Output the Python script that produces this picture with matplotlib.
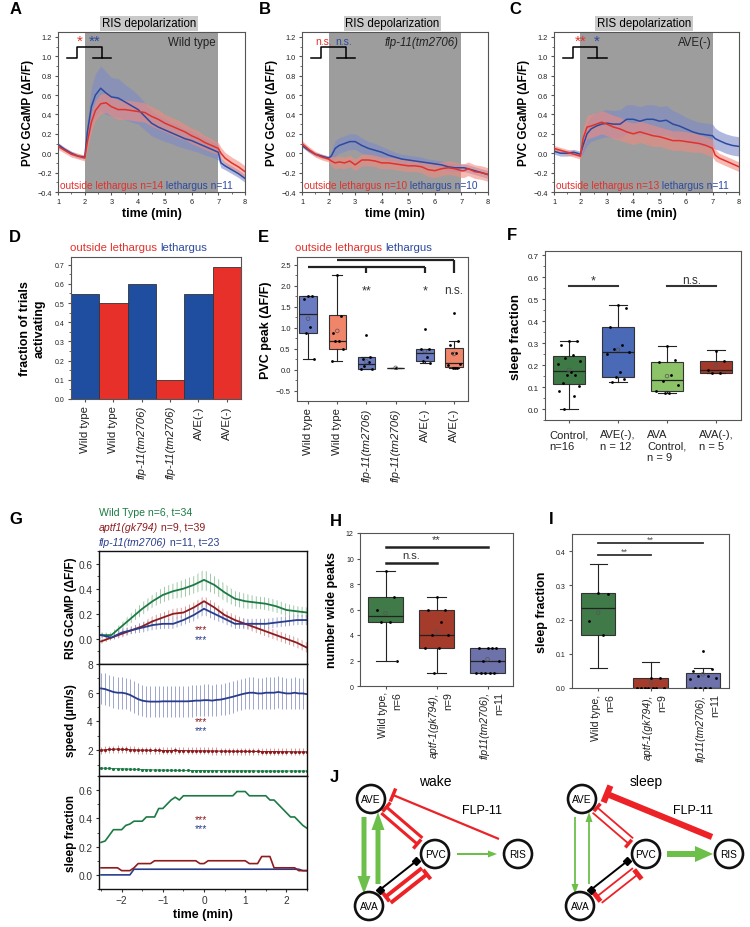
"""Multi-panel figure: PVC / RIS imaging, sleep fractions and circuit sketch."""
import numpy as np
import matplotlib
matplotlib.use("Agg")
import matplotlib.pyplot as plt
from matplotlib.patches import Circle, FancyArrow
from matplotlib.ticker import MultipleLocator
from matplotlib.transforms import blended_transform_factory as blend

# ---------------- A-C: PVC GCaMP (dF/F), mean and error ----------------
t_ac = [1.0, 1.25, 1.5, 1.75, 2.0, 2.1, 2.25, 2.4, 2.6, 2.8, 3.0, 3.25, 3.5, 3.75, 4.0, 4.25,
        4.5, 4.75, 5.0, 5.25, 5.5, 5.75, 6.0, 6.25, 6.5, 6.75, 7.0, 7.1, 7.25, 7.5, 7.75, 8.0]
wt_out = [0.07, 0.03, -0.01, -0.03, -0.05, 0.12, 0.32, 0.44, 0.51, 0.52, 0.48, 0.45, 0.45, 0.44, 0.43, 0.42,
          0.38, 0.35, 0.31, 0.28, 0.25, 0.22, 0.18, 0.15, 0.11, 0.08, 0.05, 0.00, -0.05, -0.10, -0.14, -0.19]
wt_out_err = [0.03, 0.03, 0.03, 0.03, 0.03, 0.08, 0.10, 0.10, 0.10, 0.10, 0.10, 0.10, 0.10, 0.10, 0.10, 0.10,
              0.10, 0.10, 0.09, 0.09, 0.09, 0.08, 0.08, 0.08, 0.07, 0.07, 0.06, 0.06, 0.06, 0.06, 0.06, 0.06]
wt_leth = [0.09, 0.04, 0.00, -0.03, -0.04, 0.22, 0.48, 0.60, 0.67, 0.62, 0.58, 0.57, 0.53, 0.49, 0.45, 0.38,
           0.31, 0.27, 0.24, 0.21, 0.18, 0.15, 0.13, 0.10, 0.07, 0.04, 0.01, -0.10, -0.13, -0.17, -0.21, -0.26]
wt_leth_err = [0.02, 0.02, 0.02, 0.02, 0.02, 0.10, 0.20, 0.22, 0.23, 0.22, 0.20, 0.20, 0.18, 0.17, 0.15, 0.14,
               0.13, 0.12, 0.12, 0.11, 0.11, 0.10, 0.10, 0.09, 0.09, 0.08, 0.08, 0.05, 0.04, 0.04, 0.04, 0.04]
flp_out = [0.10, 0.04, -0.01, -0.04, -0.06, -0.08, -0.10, -0.09, -0.10, -0.08, -0.12, -0.07, -0.07, -0.08, -0.10, -0.10,
           -0.11, -0.12, -0.13, -0.13, -0.14, -0.17, -0.18, -0.16, -0.15, -0.16, -0.18, -0.18, -0.16, -0.19, -0.20, -0.22]
flp_out_err = [0.03, 0.03, 0.03, 0.03, 0.03, 0.05, 0.06, 0.06, 0.06, 0.06, 0.06, 0.06, 0.06, 0.06, 0.06, 0.06,
               0.06, 0.06, 0.06, 0.06, 0.06, 0.07, 0.07, 0.07, 0.07, 0.07, 0.07, 0.07, 0.07, 0.07, 0.07, 0.07]
flp_leth = [0.08, 0.03, -0.01, -0.03, -0.05, -0.03, 0.05, 0.08, 0.10, 0.12, 0.12, 0.08, 0.05, 0.03, 0.01, -0.02,
            -0.04, -0.06, -0.07, -0.08, -0.09, -0.10, -0.11, -0.12, -0.14, -0.15, -0.15, -0.15, -0.16, -0.18, -0.20, -0.22]
flp_leth_err = [0.02, 0.02, 0.02, 0.02, 0.02, 0.05, 0.08, 0.08, 0.08, 0.08, 0.08, 0.08, 0.07, 0.07, 0.06, 0.06,
                0.05, 0.05, 0.05, 0.05, 0.05, 0.04, 0.04, 0.04, 0.04, 0.04, 0.04, 0.04, 0.04, 0.04, 0.04, 0.04]
ave_out = [0.05, 0.03, 0.01, -0.01, -0.03, 0.15, 0.27, 0.28, 0.30, 0.32, 0.30, 0.27, 0.25, 0.22, 0.20, 0.22,
           0.20, 0.18, 0.17, 0.15, 0.13, 0.13, 0.12, 0.11, 0.10, 0.08, 0.05, -0.02, -0.05, -0.08, -0.11, -0.14]
ave_out_err = [0.03, 0.03, 0.03, 0.03, 0.03, 0.10, 0.12, 0.12, 0.12, 0.12, 0.12, 0.12, 0.12, 0.11, 0.11, 0.11,
               0.11, 0.11, 0.10, 0.10, 0.10, 0.10, 0.10, 0.10, 0.09, 0.09, 0.09, 0.06, 0.05, 0.05, 0.05, 0.05]
ave_leth = [0.02, 0.00, 0.00, 0.01, -0.01, 0.08, 0.20, 0.25, 0.28, 0.30, 0.31, 0.30, 0.30, 0.35, 0.35, 0.33,
            0.35, 0.35, 0.33, 0.34, 0.30, 0.28, 0.25, 0.22, 0.20, 0.19, 0.18, 0.15, 0.13, 0.10, 0.08, 0.07]
ave_leth_err = [0.03, 0.03, 0.03, 0.03, 0.03, 0.08, 0.12, 0.13, 0.14, 0.14, 0.14, 0.14, 0.15, 0.15, 0.15, 0.15,
                0.15, 0.15, 0.15, 0.15, 0.14, 0.13, 0.12, 0.12, 0.12, 0.12, 0.12, 0.11, 0.10, 0.10, 0.10, 0.10]

# ---------------- D: fraction of trials activating ----------------
geno_labels = ['Wild type', 'Wild type', 'flp-11(tm2706)', 'flp-11(tm2706)', 'AVE(-)', 'AVE(-)']
geno_state = ['lethargus', 'outside', 'lethargus', 'outside', 'lethargus', 'outside']
frac_active = [0.545, 0.50, 0.60, 0.10, 0.545, 0.69]

# ---------------- E: PVC peak (dF/F) ----------------
peak_med = [1.34, 0.70, 0.15, 0.05, 0.40, 0.16]
peak_q1 = [0.87, 0.50, 0.02, 0.05, 0.22, 0.06]
peak_q3 = [1.77, 1.30, 0.30, 0.05, 0.50, 0.52]
peak_lo = [0.25, 0.21, 0.02, 0.05, 0.16, 0.04]
peak_hi = [1.77, 2.25, 0.30, 0.05, 0.50, 0.70]
peak_mean = [1.22, 0.93, 0.20, 0.05, 0.45, 0.38]
peak_pts = [[1.77, 1.77, 1.68, 1.02, 0.88, 0.25],
            [2.25, 1.28, 0.88, 0.68, 0.68, 0.50, 0.21],
            [0.84, 0.30, 0.25, 0.20, 0.10, 0.02, 0.02],
            [0.05],
            [0.97, 0.50, 0.50, 0.30, 0.22, 0.16],
            [1.35, 0.70, 0.60, 0.40, 0.40, 0.15, 0.12, 0.05, 0.05, 0.04]]

# ---------------- F: sleep fraction (AVE / AVA ablation) ----------------
abl_labels = ['Control,\nn=16', 'AVE(-),\nn = 12', 'AVA\nControl,\nn = 9', 'AVA(-),\nn = 5']
abl_med = [0.172, 0.262, 0.130, 0.180]
abl_q1 = [0.115, 0.148, 0.080, 0.165]
abl_q3 = [0.240, 0.375, 0.213, 0.217]
abl_lo = [0.000, 0.125, 0.073, 0.163]
abl_hi = [0.312, 0.473, 0.288, 0.267]
abl_mean = [0.178, 0.270, 0.150, 0.200]
abl_pts = [[0.31, 0.31, 0.29, 0.245, 0.232, 0.218, 0.205, 0.17, 0.155, 0.155, 0.12, 0.105, 0.08, 0.06, 0.0],
           [0.473, 0.46, 0.375, 0.29, 0.275, 0.26, 0.25, 0.17, 0.145, 0.135, 0.125],
           [0.288, 0.225, 0.213, 0.157, 0.128, 0.108, 0.08, 0.075, 0.073],
           [0.265, 0.217, 0.18, 0.163, 0.165]]

# ---------------- G: RIS GCaMP, speed, sleep fraction around peak ----------------
g_t = [-2.5, -2.25, -2.0, -1.75, -1.5, -1.25, -1.0, -0.75, -0.5, -0.25, 0.0,
       0.25, 0.5, 0.75, 1.0, 1.25, 1.5, 1.75, 2.0, 2.25, 2.5]
gc_wt = [0.03, 0.03, 0.10, 0.17, 0.24, 0.30, 0.35, 0.38, 0.40, 0.43, 0.47,
         0.43, 0.37, 0.32, 0.30, 0.29, 0.28, 0.26, 0.23, 0.22, 0.21]
gc_wt_err = [0.02, 0.02, 0.03, 0.04, 0.05, 0.05, 0.06, 0.06, 0.07, 0.07, 0.08,
             0.07, 0.07, 0.06, 0.06, 0.05, 0.05, 0.05, 0.05, 0.04, 0.04]
gc_aptf = [-0.02, 0.01, 0.04, 0.07, 0.10, 0.14, 0.17, 0.20, 0.21, 0.25, 0.30,
           0.25, 0.19, 0.15, 0.12, 0.09, 0.06, 0.03, 0.00, -0.03, -0.07]
gc_aptf_err = [0.02, 0.02, 0.03, 0.03, 0.03, 0.04, 0.04, 0.04, 0.04, 0.04, 0.04,
               0.04, 0.04, 0.04, 0.04, 0.04, 0.04, 0.04, 0.04, 0.04, 0.04]
gc_flp = [0.03, 0.01, 0.05, 0.07, 0.09, 0.11, 0.12, 0.12, 0.15, 0.19, 0.24,
          0.20, 0.16, 0.12, 0.12, 0.12, 0.12, 0.13, 0.14, 0.15, 0.15]
gc_flp_err = [0.02, 0.02, 0.03, 0.03, 0.04, 0.04, 0.04, 0.04, 0.04, 0.05, 0.05,
              0.05, 0.04, 0.04, 0.04, 0.04, 0.04, 0.04, 0.04, 0.04, 0.04]

g_tf = [-2.5, -2.4, -2.3, -2.2, -2.1, -2.0, -1.9, -1.8, -1.7, -1.6,
        -1.5, -1.4, -1.3, -1.2, -1.1, -1.0, -0.9, -0.8, -0.7, -0.6,
        -0.5, -0.4, -0.3, -0.2, -0.1, 0.0, 0.1, 0.2, 0.3, 0.4,
        0.5, 0.6, 0.7, 0.8, 0.9, 1.0, 1.1, 1.2, 1.3, 1.4,
        1.5, 1.6, 1.7, 1.8, 1.9, 2.0, 2.1, 2.2, 2.3, 2.4, 2.5]
spd_flp = [6.30, 6.25, 6.15, 6.05, 6.00, 6.00, 5.95, 5.85, 5.70, 5.55,
           5.45, 5.40, 5.38, 5.38, 5.38, 5.40, 5.40, 5.40, 5.40, 5.40,
           5.40, 5.40, 5.42, 5.45, 5.45, 5.48, 5.48, 5.45, 5.50, 5.52,
           5.58, 5.65, 5.72, 5.80, 5.88, 5.95, 6.00, 6.00, 5.95, 5.95,
           6.00, 6.00, 6.00, 6.05, 6.00, 5.95, 5.95, 6.00, 5.95, 5.95, 5.90]
spd_flp_err = 1.1
spd_aptf = [2.00, 2.02, 2.05, 2.05, 2.08, 2.05, 2.05, 2.03, 2.02, 2.00,
            2.00, 2.00, 1.98, 1.98, 1.98, 1.97, 1.97, 1.97, 1.98, 1.97,
            1.97, 1.96, 1.96, 1.95, 1.95, 1.95, 1.95, 1.94, 1.94, 1.93,
            1.93, 1.93, 1.92, 1.92, 1.92, 1.92, 1.91, 1.91, 1.91, 1.90,
            1.90, 1.90, 1.90, 1.90, 1.89, 1.89, 1.89, 1.88, 1.88, 1.88, 1.88]
spd_aptf_err = 0.25
spd_wt = [0.75, 0.74, 0.73, 0.72, 0.71, 0.70, 0.69, 0.68, 0.67, 0.66,
          0.65, 0.64, 0.63, 0.62, 0.62, 0.61, 0.61, 0.60, 0.60, 0.59,
          0.59, 0.59, 0.58, 0.58, 0.58, 0.58, 0.57, 0.57, 0.57, 0.57,
          0.57, 0.56, 0.56, 0.56, 0.56, 0.56, 0.56, 0.56, 0.55, 0.55,
          0.55, 0.55, 0.55, 0.55, 0.55, 0.55, 0.55, 0.55, 0.55, 0.55, 0.55]
spd_wt_err = 0.05
sl_wt = [0.23, 0.24, 0.28, 0.32, 0.32, 0.32, 0.35, 0.36, 0.38, 0.38,
         0.38, 0.41, 0.41, 0.41, 0.47, 0.47, 0.50, 0.53, 0.55, 0.53,
         0.56, 0.56, 0.56, 0.56, 0.56, 0.56, 0.56, 0.56, 0.56, 0.56,
         0.56, 0.56, 0.56, 0.59, 0.59, 0.59, 0.56, 0.56, 0.56, 0.56,
         0.56, 0.53, 0.53, 0.50, 0.47, 0.44, 0.41, 0.41, 0.38, 0.35, 0.33]
sl_aptf = [0.05, 0.05, 0.05, 0.05, 0.05, 0.03, 0.03, 0.03, 0.05, 0.08,
           0.08, 0.08, 0.08, 0.10, 0.10, 0.10, 0.10, 0.10, 0.10, 0.10,
           0.10, 0.10, 0.10, 0.10, 0.08, 0.08, 0.10, 0.10, 0.10, 0.10,
           0.10, 0.10, 0.10, 0.10, 0.10, 0.10, 0.08, 0.08, 0.08, 0.13,
           0.13, 0.13, 0.05, 0.05, 0.05, 0.05, 0.05, 0.05, 0.03, 0.03, 0.03]
sl_flp = [0.0, 0.0, 0.0, 0.0, 0.0, 0.0, 0.0, 0.0, 0.04, 0.04,
          0.04, 0.04, 0.04, 0.04, 0.04, 0.04, 0.04, 0.04, 0.04, 0.04,
          0.04, 0.04, 0.04, 0.04, 0.04, 0.04, 0.04, 0.04, 0.04, 0.04,
          0.04, 0.04, 0.04, 0.04, 0.04, 0.04, 0.04, 0.04, 0.04, 0.04,
          0.04, 0.04, 0.04, 0.04, 0.04, 0.04, 0.04, 0.04, 0.04, 0.03, 0.03]

# ---------------- H: number of wide peaks ----------------
mut_lines = ['Wild type,', 'aptf-1(gk794),', 'flp11(tm2706),']
mut_n = ['n=6', 'n=9', 'n=11']
wp_med = [5.5, 4.0, 2.0]
wp_q1 = [5.0, 3.0, 1.0]
wp_q3 = [7.0, 6.0, 3.0]
wp_lo = [2.0, 1.0, 1.0]
wp_hi = [9.0, 7.0, 3.0]
wp_mean = [5.7, 4.3, 2.1]
wp_pts = [[9, 7, 6, 5, 5, 2], [7, 6, 6, 5, 4, 4, 3, 3, 1], [3, 3, 3, 3, 2, 2, 1, 1, 1, 1, 1]]

# ---------------- I: sleep fraction per mutant ----------------
sf_med = [0.235, 0.0, 0.0]
sf_q1 = [0.155, 0.0, 0.0]
sf_q3 = [0.278, 0.030, 0.043]
sf_lo = [0.058, 0.0, 0.0]
sf_hi = [0.362, 0.077, 0.057]
sf_mean = [0.220, 0.015, 0.040]
sf_pts = [[0.278, 0.275, 0.195, 0.155],
          [0.03, 0.03, 0.0, 0.0, 0.0, 0.0, 0.0, 0.0, 0.0],
          [0.108, 0.055, 0.05, 0.035, 0.035, 0.03, 0.025, 0.0, 0.0, 0.0, 0.0]]

# ---------------- style ----------------
plt.rcParams.update({'font.family': ['Liberation Sans', 'DejaVu Sans'], 'font.size': 7,
                     'axes.linewidth': 0.8, 'xtick.major.size': 2.5, 'ytick.major.size': 2.5,
                     'xtick.minor.size': 1.5, 'ytick.minor.size': 1.5,
                     'xtick.major.pad': 2, 'ytick.major.pad': 2, 'hatch.linewidth': 0.6})
W, H = 750, 928
fig = plt.figure(figsize=(W / 100, H / 100), dpi=100)

RED, RED_F = '#e2312b', '#f28b80'
BLUE, BLUE_F = '#2c4a9f', '#7d89c9'
BAR_C = {'lethargus': '#1f4ea1', 'outside': '#e8302a'}
G_GREEN, G_RED, G_BLUE = '#1c7a44', '#8e1c1f', '#2a3d8c'
G_GREEN_L, G_RED_L, G_BLUE_L = '#8fc19b', '#d08b8b', '#8e97c4'
J_RED, J_GREEN = '#ec2227', '#6cc04a'
JIT = [0.0, 0.15, -0.15, 0.08, -0.08, 0.21, -0.21, 0.04, -0.04, 0.12, -0.12, 0.18, -0.18, 0.1, -0.1]


def rect(l, r, t, b):
    return [l / W, 1 - b / H, (r - l) / W, (b - t) / H]


def frame(ax, col='#555555'):
    for s in ax.spines.values():
        s.set_color(col)
    ax.tick_params(which='both', colors=col, labelcolor='#222222', direction='out')


def boxes(ax, med, q1, q3, lo, hi, pts, means, colors, width, capw, jit=1.0):
    stats = [dict(med=m, q1=a, q3=b, whislo=l, whishi=h) for m, a, b, l, h in zip(med, q1, q3, lo, hi)]
    pos = np.arange(1, len(stats) + 1)
    bp = ax.bxp(stats, positions=pos, widths=width, capwidths=capw, patch_artist=True,
                showfliers=False, boxprops=dict(lw=0.8, edgecolor='#333333'),
                medianprops=dict(color='#222222', lw=0.9), whiskerprops=dict(color='#222222', lw=0.8),
                capprops=dict(color='#222222', lw=0.8))
    for patch, c in zip(bp['boxes'], colors):
        patch.set_facecolor(c)
    for i, p in enumerate(pts):
        off = np.array(JIT[:len(p)]) * jit
        ax.scatter(pos[i] + off, p, s=4, color='k', lw=0, zorder=4)
    ax.scatter(pos, means, s=7, facecolor='none', edgecolor='#555555', lw=0.5, zorder=4)
    return pos


# ================= A-C =================
def trace_panel(box, out, out_e, leth, leth_e, tag, tag_x, italic, n_out, n_leth, marks):
    ax = fig.add_axes(rect(*box))
    t = np.array(t_ac)
    ax.axvspan(2, 7, color='#9d9d9d', lw=0, zorder=0)
    for y, e, c in ((leth, leth_e, BLUE_F), (out, out_e, RED_F)):
        y, e = np.array(y), np.array(e)
        ax.fill_between(t, y - e, y + e, color=c, alpha=0.6, lw=0, zorder=1)
    ax.plot(t, leth, color=BLUE, lw=1.1, zorder=2)
    ax.plot(t, out, color=RED, lw=1.1, zorder=3)
    ax.plot([1.33, 1.72, 1.72, 2.64, 2.64, 3.0], [0.98, 0.98, 1.1, 1.1, 0.98, 0.98], color='k', lw=1.1, zorder=4)
    ax.plot([2.3, 2.64], [0.98, 0.98], color='k', lw=1.1, zorder=4)
    for x, s, c, fs in marks:
        ax.text(x, 1.16, s, color=c, ha='center', va='center', fontsize=fs)
    ax.text(tag_x, 1.15, tag, ha='right', va='center', fontsize=8.3, color='#222222',
            style='italic' if italic else 'normal')
    t1 = ax.text(1.06, -0.33, f'outside lethargus n={n_out}', color=RED, fontsize=7.3, va='center')
    ax.annotate(f' lethargus n={n_leth}', xy=(1, 0.5), xycoords=t1, va='center', color=BLUE, fontsize=7.3)
    ax.text(4.4, 1.055, 'RIS depolarization', transform=blend(ax.transData, ax.transAxes),
            ha='center', va='center', fontsize=8.3,
            bbox=dict(facecolor='#c9c9c9', edgecolor='none', pad=1.2))
    ax.set_xlim(1, 8)
    ax.set_ylim(-0.4, 1.25)
    ax.xaxis.set_major_locator(MultipleLocator(1))
    ax.xaxis.set_minor_locator(MultipleLocator(0.5))
    ax.yaxis.set_major_locator(MultipleLocator(0.2))
    ax.yaxis.set_minor_locator(MultipleLocator(0.1))
    ax.set_yticks(np.arange(-0.4, 1.21, 0.2))
    ax.tick_params(labelsize=5.3)
    frame(ax)
    ax.set_xlabel('time (min)', weight='bold', fontsize=9, labelpad=1)
    ax.set_ylabel('PVC GCaMP (ΔF/F)', weight='bold', fontsize=8.5, labelpad=2)
    return ax


trace_panel((58, 245, 33, 193), wt_out, wt_out_err, wt_leth, wt_leth_err, 'Wild type', 6.9, False, 14, 11,
            [(1.82, '*', RED, 11), (2.36, '**', BLUE, 11)])
trace_panel((302, 488, 33, 193), flp_out, flp_out_err, flp_leth, flp_leth_err, 'flp-11(tm2706)', 6.9, True, 10, 10,
            [(1.83, 'n.s.', RED, 7.5), (2.57, 'n.s.', BLUE, 7.5)])
trace_panel((554, 739, 33, 193), ave_out, ave_out_err, ave_leth, ave_leth_err, 'AVE(-)', 6.95, False, 13, 11,
            [(2.0, '**', RED, 11), (2.6, '*', BLUE, 11)])

# ================= D =================
axd = fig.add_axes(rect(71, 241, 258, 400))
xd = np.arange(len(frac_active))
axd.bar(xd, frac_active, width=1.0, color=[BAR_C[s] for s in geno_state], edgecolor='#333333', lw=0.6)
axd.set_xlim(-0.5, 5.5)
axd.set_ylim(0, 0.74)
axd.set_yticks(np.arange(0, 0.71, 0.1))
axd.yaxis.set_minor_locator(MultipleLocator(0.05))
axd.set_xticks(xd)
axd.set_xticklabels(geno_labels, rotation=90, fontsize=8.2)
axd.tick_params(axis='y', labelsize=5)
frame(axd)
axd.set_ylabel('fraction of trials\nactivating', weight='bold', fontsize=9, labelpad=7)

# ================= E =================
axe = fig.add_axes(rect(297, 468, 258, 402))
boxes(axe, peak_med, peak_q1, peak_q3, peak_lo, peak_hi, peak_pts, peak_mean,
      ['#6b7bc2', '#f0856a'] * 3, 0.6, 0.35, jit=0.9)
axe.set_xlim(0.62, 6.48)
axe.set_ylim(-0.74, 2.69)
axe.set_yticks(np.arange(-0.5, 2.51, 0.5))
axe.yaxis.set_minor_locator(MultipleLocator(0.25))
axe.set_xticks(range(1, 7))
axe.set_xticklabels(geno_labels, rotation=90, fontsize=8.2)
axe.tick_params(axis='y', labelsize=5.5)
frame(axe)
for xs, ys in (([1, 5], [2.45, 2.45]), ([3, 3], [2.45, 2.3]), ([5, 5], [2.45, 2.3]),
               ([2, 6], [2.63, 2.63]), ([6, 6], [2.63, 2.3])):
    axe.plot(xs, ys, color='#222222', lw=1.6, clip_on=False, solid_capstyle='butt')
axe.text(3, 1.9, '**', ha='center', va='center', fontsize=9, color='#333333')
axe.text(5, 1.9, '*', ha='center', va='center', fontsize=9, color='#333333')
axe.text(6, 1.9, 'n.s.', ha='center', va='center', fontsize=8.5, color='#333333')
axe.set_ylabel('PVC peak (ΔF/F)', weight='bold', fontsize=9, labelpad=3)

for ax in (axd, axe):
    for lbl in ax.get_xticklabels():
        if 'flp' in lbl.get_text():
            lbl.set_style('italic')

# ================= F =================
axf = fig.add_axes(rect(545, 741, 252, 421))
boxes(axf, abl_med, abl_q1, abl_q3, abl_lo, abl_hi, abl_pts, abl_mean,
      ['#3d7a46', '#4a69b6', '#8cc268', '#a23a2b'], 0.67, 0.35, jit=1.1)
axf.set_xlim(0.51, 4.51)
axf.set_ylim(-0.05, 0.72)
axf.set_yticks(np.arange(0, 0.71, 0.1))
axf.yaxis.set_minor_locator(MultipleLocator(0.05))
axf.set_xticks(range(1, 5))
axf.set_xticklabels(abl_labels, fontsize=8, multialignment='left', va='top')
axf.tick_params(axis='y', labelsize=5.8)
axf.tick_params(axis='x', pad=4)
frame(axf)
axf.plot([1, 2], [0.56, 0.56], color='#333333', lw=1.5)
axf.plot([3, 4], [0.56, 0.56], color='#333333', lw=1.5)
axf.text(1.5, 0.585, '*', ha='center', va='center', fontsize=9, color='#333333')
axf.text(3.5, 0.59, 'n.s.', ha='center', va='center', fontsize=8.5, color='#333333')
axf.set_ylabel('sleep fraction', weight='bold', fontsize=9.5, labelpad=4)

# ================= G =================
tg, tf = np.array(g_t), np.array(g_tf)
g1 = fig.add_axes(rect(99, 307, 552, 665))
g2 = fig.add_axes(rect(99, 307, 665, 777), sharex=g1)
g3 = fig.add_axes(rect(99, 307, 777, 890), sharex=g1)
top_series = ((gc_wt, gc_wt_err, G_GREEN, G_GREEN_L), (gc_aptf, gc_aptf_err, G_RED, G_RED_L),
              (gc_flp, gc_flp_err, G_BLUE, G_BLUE_L))
for y, e, c, cl in top_series:
    y, e = np.array(y), np.array(e)
    g1.fill_between(tg, y - e, y + e, facecolor='none', edgecolor=cl, hatch='||||', lw=0)
for y, e, c, cl in top_series:
    g1.plot(tg, y, color=c, lw=1.3)
g2.errorbar(tf, spd_flp, yerr=spd_flp_err, color=G_BLUE, ecolor=G_BLUE_L, elinewidth=0.6, lw=1.3)
g2.errorbar(tf, spd_aptf, yerr=spd_aptf_err, fmt='.-', ms=2.5, color=G_RED, ecolor=G_RED_L,
            elinewidth=0.6, lw=0.8)
g2.errorbar(tf, spd_wt, yerr=spd_wt_err, fmt='.-', ms=2.5, color=G_GREEN, ecolor=G_GREEN,
            elinewidth=0.5, lw=0.6)
g3.plot(tf, sl_wt, color=G_GREEN, lw=1.2)
g3.plot(tf, sl_flp, color=G_BLUE, lw=1.2)
g3.plot(tf, sl_aptf, color=G_RED, lw=1.2)

g1.set_ylim(-0.2, 0.7)
g1.set_yticks([0.0, 0.2, 0.4, 0.6])
g1.yaxis.set_minor_locator(MultipleLocator(0.1))
g2.set_ylim(0.2, 8)
g2.set_yticks([2, 4, 6, 8])
g2.yaxis.set_minor_locator(MultipleLocator(1))
g3.set_ylim(-0.1, 0.7)
g3.set_yticks([0.0, 0.2, 0.4, 0.6])
g3.yaxis.set_minor_locator(MultipleLocator(0.1))
g3.set_xlim(-2.55, 2.5)
g3.set_xticks([-2, -1, 0, 1, 2])
g3.xaxis.set_minor_locator(MultipleLocator(0.5))
for ax, lab, ys in ((g1, 'RIS GCaMP (ΔF/F)', (0.075, -0.005)), (g2, 'speed (μm/s)', (4.05, 3.4)),
                    (g3, 'sleep fraction', (0.395, 0.33))):
    for s in ax.spines.values():
        s.set_color('#111111')
        s.set_linewidth(1.0)
    ax.tick_params(which='both', direction='out', labelsize=7.3, colors='#333333')
    ax.set_ylabel(lab, weight='bold', fontsize=8.5)
    ax.yaxis.set_label_coords(-0.105, 0.5)
    ax.text(-0.07, ys[0], '***', color=G_RED, ha='center', va='center', fontsize=7.5)
    ax.text(-0.07, ys[1], '***', color=G_BLUE, ha='center', va='center', fontsize=7.5)
for ax in (g1, g2):
    ax.tick_params(axis='x', which='both', bottom=False, labelbottom=False)
g3.set_xlabel('time (min)', weight='bold', fontsize=9, labelpad=2)

# ================= H =================
axh = fig.add_axes(rect(360, 513, 534, 687))
ph = boxes(axh, wp_med, wp_q1, wp_q3, wp_lo, wp_hi, wp_pts, wp_mean,
           ['#3f7a48', '#a43b2b', '#6d72ab'], 0.67, 0.37, jit=1.1)
axh.set_xlim(0.5, 3.5)
axh.set_ylim(0, 12)
axh.set_yticks(range(0, 13, 2))
axh.tick_params(axis='y', labelsize=5)
axh.plot([1, 2], [9.65, 9.65], color='#222222', lw=1.8)
axh.plot([1, 3], [10.9, 10.9], color='#222222', lw=1.8)
axh.text(1.5, 10.25, 'n.s.', ha='center', va='center', fontsize=8, color='#333333')
axh.text(2.0, 11.5, '**', ha='center', va='center', fontsize=8, color='#333333')
axh.set_ylabel('number wide peaks', weight='bold', fontsize=9, labelpad=6)

# ================= I =================
axi = fig.add_axes(rect(572, 729, 535, 689))
pi = boxes(axi, sf_med, sf_q1, sf_q3, sf_lo, sf_hi, sf_pts, sf_mean,
           ['#3f7a48', '#a43b2b', '#6d72ab'], 0.65, 0.33, jit=1.2)
axi.set_xlim(0.5, 3.5)
axi.set_ylim(0, 0.45)
axi.set_yticks([0.0, 0.1, 0.2, 0.3, 0.4])
axi.tick_params(axis='y', labelsize=5)
axi.plot([1, 2], [0.388, 0.388], color='#333333', lw=1.3)
axi.plot([1, 3], [0.423, 0.423], color='#333333', lw=1.3)
axi.text(1.5, 0.401, '**', ha='center', va='center', fontsize=6.5, color='#555555')
axi.text(2.0, 0.436, '**', ha='center', va='center', fontsize=6.5, color='#555555')
axi.set_ylabel('sleep fraction', weight='bold', fontsize=9, labelpad=6)

for ax, pos in ((axh, ph), (axi, pi)):
    frame(ax)
    ax.set_xticks(pos)
    ax.set_xticklabels([])
    tr = blend(ax.transData, ax.transAxes)
    for p, a, b in zip(pos, mut_lines, mut_n):
        ax.text(p - 0.05, -0.035, a, transform=tr, rotation=90, ha='center', va='top', fontsize=7.6,
                style='normal' if a.startswith('Wild') else 'italic', color='#222222')
        ax.text(p + 0.23, -0.035, b, transform=tr, rotation=90, ha='center', va='top', fontsize=7.6,
                color='#222222')

# ================= overlay: letters, headings, J =================
ov = fig.add_axes([0, 0, 1, 1])
ov.set_xlim(0, W)
ov.set_ylim(H, 0)
ov.axis('off')
ov.patch.set_visible(False)

for letter, x, y in (('A', 10, 10), ('B', 259, 10), ('C', 509, 10), ('D', 9, 238), ('E', 258, 238),
                     ('F', 507, 236), ('G', 9, 520), ('H', 330, 522), ('I', 549, 520), ('J', 330, 778)):
    ov.text(x, y, letter, fontsize=12, weight='bold', ha='left', va='center')

for xr in (157, 382):
    ov.text(xr, 248, 'outside lethargus', color=RED, ha='right', va='center', fontsize=8.2)
    ov.text(xr + 3, 248, 'lethargus', color=BLUE, ha='left', va='center', fontsize=8.2)

ov.text(99, 513, 'Wild Type n=6, t=34', color=G_GREEN, fontsize=7.6, va='center')
for y, gname, rest, c in ((528, 'aptf1(gk794)', ' n=9, t=39', G_RED), (543, 'flp-11(tm2706)', ' n=11, t=23', G_BLUE)):
    tt = ov.text(99, y, gname, color=c, fontsize=7.6, va='center', style='italic')
    ov.annotate(rest, xy=(1, 0.5), xycoords=tt, va='center', color=c, fontsize=7.6)


def tline(p, q, lw, bar, blw):
    p, q = np.asarray(p, float), np.asarray(q, float)
    d = (q - p) / np.linalg.norm(q - p)
    n = np.array([-d[1], d[0]])
    ov.plot([p[0], q[0]], [p[1], q[1]], color=J_RED, lw=lw, solid_capstyle='butt')
    ov.plot([q[0] - n[0] * bar, q[0] + n[0] * bar], [q[1] - n[1] * bar, q[1] + n[1] * bar],
            color=J_RED, lw=blw, solid_capstyle='butt')


def pair(a, b, ga, gb, off, sep, lw, bar, blw):
    a, b = np.asarray(a, float), np.asarray(b, float)
    d = (b - a) / np.linalg.norm(b - a)
    n = np.array([-d[1], d[0]])
    p, q = a + d * ga + n * off, b - d * gb + n * off
    tline(p + n * sep, q + n * sep, lw, bar, blw)
    tline(q - n * sep, p - n * sep, lw, bar, blw)


def circuit(ox, title, wake):
    ave, pvc, ris, ava = (ox, 800), (ox + 64, 855), (ox + 147, 855), (ox - 2, 907)
    ov.text(ox + 64, 782, title, fontsize=10, ha='center', va='center')
    ov.text(ox + 111, 811, 'FLP-11', fontsize=9, ha='center', va='center')
    gw, ghw, ghl = (5, 13, 18) if wake else (1.8, 7, 10)
    ov.add_patch(FancyArrow(ox - 7, 818, 0, 77, width=gw, head_width=ghw, head_length=ghl,
                            length_includes_head=True, color=J_GREEN, lw=0))
    ov.add_patch(FancyArrow(ox + 7, 885, 0, -72, width=gw, head_width=ghw, head_length=ghl,
                            length_includes_head=True, color=J_GREEN, lw=0))
    pw, phw, phl = (2, 7, 9) if wake else (6, 16, 18)
    x0 = ox + 86 if wake else ox + 85
    ov.add_patch(FancyArrow(x0, 855, 126 - 86 if wake else 46, 0, width=pw, head_width=phw,
                            head_length=phl, length_includes_head=True, color=J_GREEN, lw=0))
    if wake:
        tline((ox + 128, 840), (ox + 22, 796), 1.6, 7, 2.5)
        pair(ave, pvc, 17, 20, 0, 4, 2.2, 6, 2.5)
        pair(pvc, ava, 19, 19, -7, 4, 2.8, 6, 2.8)
    else:
        tline((ox + 130, 838), (ox + 25, 795), 4.5, 9, 4.5)
        pair(ave, pvc, 17, 20, 0, 3.5, 1.3, 5, 2.5)
        pair(pvc, ava, 19, 19, -7, 4, 1.3, 6, 3.5)
    a, b = np.array(pvc, float), np.array(ava, float)
    d = (b - a) / np.linalg.norm(b - a)
    n = np.array([-d[1], d[0]])
    p, q = a + d * 19 + n * 6, b - d * 19 + n * 6
    ov.plot([p[0], q[0]], [p[1], q[1]], color='k', lw=1.4, marker='D', ms=4.5, markevery=[0, 1])
    for name, (x, y) in (('AVE', ave), ('PVC', pvc), ('RIS', ris), ('AVA', ava)):
        ov.add_patch(Circle((x, y), 14, facecolor='white', edgecolor='#111111', lw=1.9, zorder=5))
        ov.text(x, y, name, fontsize=7.3, ha='center', va='center', zorder=6)


circuit(371, 'wake', True)
circuit(582, 'sleep', False)

fig.savefig('out.png', dpi=100)
